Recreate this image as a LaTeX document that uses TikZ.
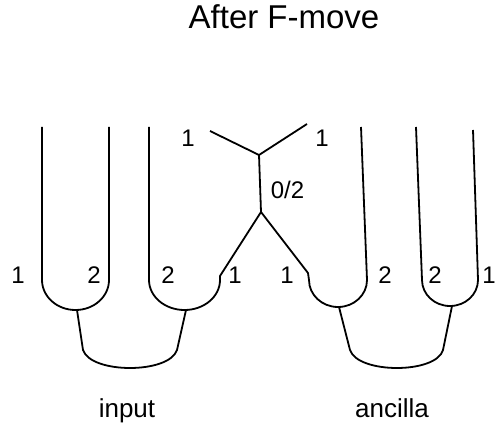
\documentclass[tikz,border=0pt]{standalone}
\usepackage{fontspec}
\setmainfont{Liberation Sans}
\begin{document}
\begin{tikzpicture}[x=1pt,y=-1pt,
  strand/.style={line width=1.8pt,line join=round},
  lab/.style={inner sep=0pt,anchor=base,font=\fontsize{24}{24}\selectfont},
  word/.style={inner sep=0pt,anchor=base,font=\fontsize{26}{26}\selectfont},
  ttl/.style={inner sep=0pt,anchor=base,font=\fontsize{33}{33}\selectfont}]
\useasboundingbox (0,0) rectangle (497,430);
% title
\node[ttl] (title) at (284,29) {After F-move};
% coordinates
\coordinate (a1t) at (42,127);  \coordinate (a1b) at (42,280);
\coordinate (a2t) at (109,127);
\coordinate (b1t) at (149,127); \coordinate (b1b) at (149,280);
\coordinate (b2k) at (220,276);
\coordinate (ytl) at (210,131); \coordinate (ytr) at (307,124);
\coordinate (yup) at (259,155); \coordinate (ydn) at (261,212);
\coordinate (c1k) at (308,273); \coordinate (c1b) at (309,280);
\coordinate (c2t) at (361,127);
\coordinate (d1t) at (416,127); \coordinate (d1b) at (422,280);
\coordinate (d2t) at (473,130);
% input cups
\draw[strand] (a1t) -- (a1b) arc[start angle=180,end angle=360,x radius=33.5pt,y radius=30pt] -- (a2t);
\draw[strand] (b1t) -- (b1b) arc[start angle=180,end angle=360,x radius=35.5pt,y radius=30pt] -- (b2k) -- (ydn);
% Y vertex
\draw[strand] (ytl) -- (yup) -- (ytr);
\draw[strand] (yup) -- (ydn);
% ancilla cups
\draw[strand] (ydn) -- (c1k) -- (c1b) arc[start angle=180,end angle=360,x radius=29pt,y radius=27pt] -- (c2t);
\draw[strand] (d1t) -- (d1b) arc[start angle=180,end angle=360,x radius=28pt,y radius=26pt] -- (d2t);
% joining arcs
\coordinate (ia) at (77,310); \coordinate (ib) at (186,310);
\draw[strand] (ia) -- (83,350) .. controls (91,374) and (169,374) .. (177,350) -- (ib);
\coordinate (aa) at (339,307); \coordinate (ab) at (452,306);
\draw[strand] (aa) -- (350,350) .. controls (358,374) and (436,374) .. (443,350) -- (ab);
% labels
\node[lab] (t1) at (188,147) {1};
\node[lab] (t2) at (322,147) {1};
\node[lab] (mid) at (287.5,198) {0/2};
\node[lab] (l1) at (18,283) {1};
\node[lab] (l2) at (94,283) {2};
\node[lab] (l3) at (168,283) {2};
\node[lab] (l4) at (235,283) {1};
\node[lab] (l5) at (287,283) {1};
\node[lab] (l6) at (385,283) {2};
\node[lab] (l7) at (435,283) {2};
\node[lab] (l8) at (489,283) {1};
\node[word] (inp) at (127,417) {input};
\node[word] (anc) at (392,417) {ancilla};
\end{tikzpicture}
\end{document}
